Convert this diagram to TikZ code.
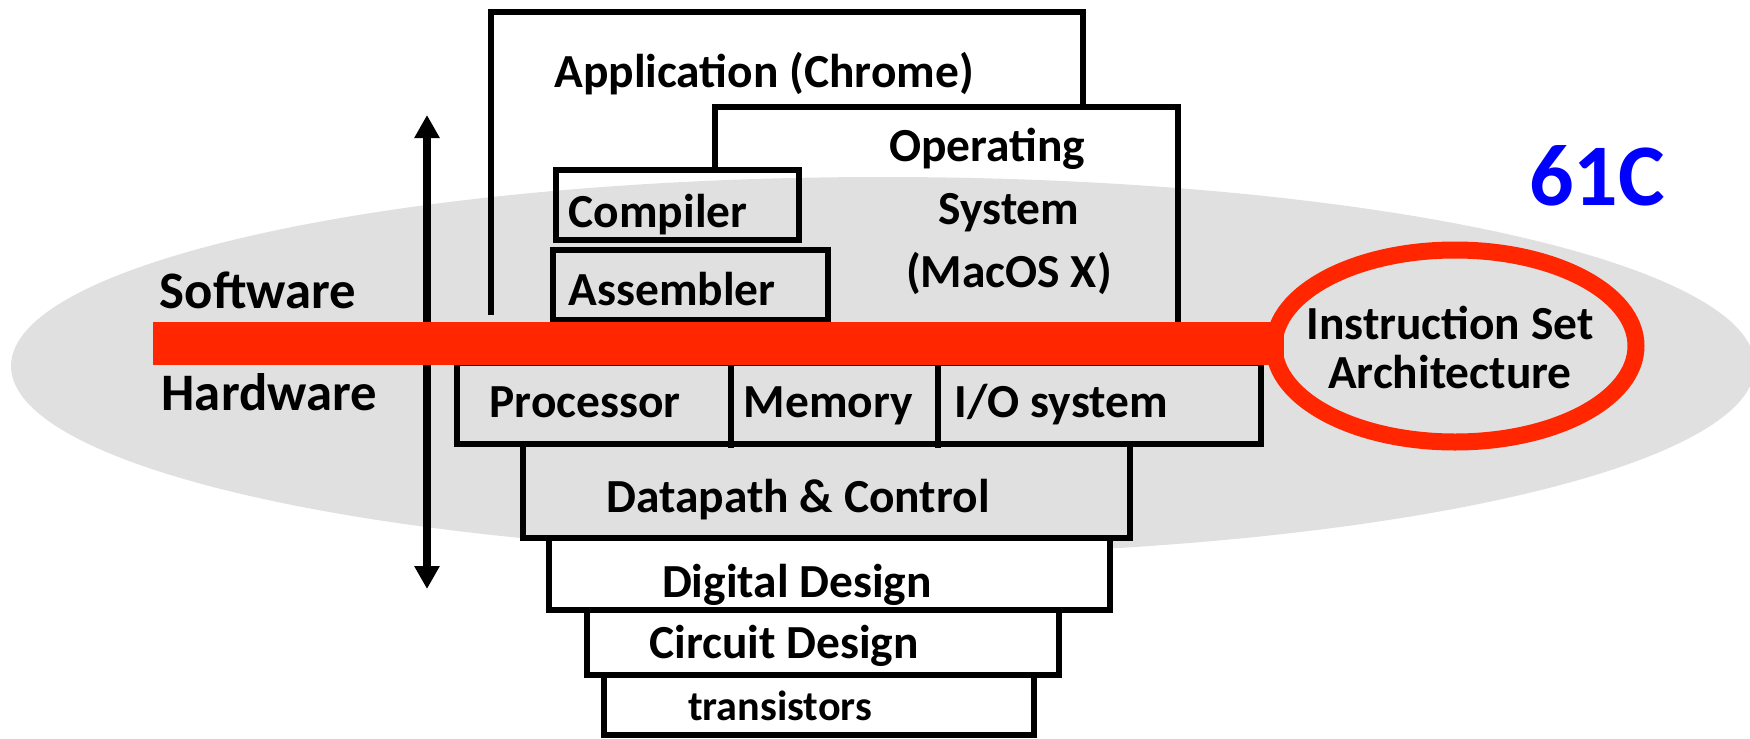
\documentclass[tikz,border=0pt]{standalone}
\usepackage{fontspec}
\setmainfont{Carlito}
\usetikzlibrary{arrows.meta}
\definecolor{ellgray}{RGB}{224,224,224}
\definecolor{isared}{RGB}{255,38,0}
\definecolor{cblue}{RGB}{0,0,255}
\tikzset{
layer/.style={draw, line width=1.8pt}, % outline of one layer box
lbl/.style={font=\bfseries\fontsize{13.5}{17.8}\selectfont, inner sep=0pt}, % text in the boxes
side/.style={font=\bfseries\fontsize{15}{16}\selectfont, inner sep=0pt, anchor=base west}, % software / hardware
updown/.style={{Triangle[width=2.4mm,length=2.3mm]}-{Triangle[width=2.4mm,length=2.3mm]}, line width=0.8mm},
}

\begin{document}
\begin{tikzpicture}[x=0.1mm, y=-0.1mm]%pixel units, y downwards
  \useasboundingbox (0,0) rectangle (1750,738);
  \fill[ellgray] (883,366) ellipse [x radius=87.2mm, y radius=18.9mm];

  % software side
  \draw[layer] (491,315) |- (1083,12) -- (1083,107);
  \draw[layer] (715,168) |- (1178,107) -- (1178,322);
  \draw[layer] (556,170) rectangle (799,240);
  \draw[layer] (553,250) rectangle (828,320);

  % hardware side
  \draw[layer] (457,363) rectangle (1261,444);
  \draw[layer] (731,363) -- (731,448);
  \draw[layer] (938,363) -- (938,448);
  \draw[layer] (523,444) rectangle (1130,538);
  \draw[layer, fill=white] (549,538) rectangle (1110,610);
  \draw[layer, fill=white] (587,610) rectangle (1059,675);
  \draw[layer, fill=white] (604,675) rectangle (1034,735);

  \coordinate (up) at (427,115);
  \coordinate (down) at (427,589);
  \draw[updown] (up) -- (down);

  % the interface
  \fill[isared] (153,322) rectangle (1284,365);
  \draw[isared, line width=1.7mm] (1455,346) ellipse [x radius=18.1mm, y radius=9.6mm];

  \node[side] (sw) at (159,308) {Software};
  \node[side] (hw) at (161,410) {Hardware};
  \node[lbl, anchor=base] (app) at (764,87) {Application (Chrome)};
  \node[lbl, anchor=base, align=center] (os) at (1009,287) {Operating\hspace*{4.4mm}\\System\\(MacOS X)};
  \node[lbl, anchor=base west] (comp) at (568,227) {Compiler};
  \node[lbl, anchor=base west] (asm) at (568,305) {Assembler};
  \node[lbl, anchor=base west] (proc) at (489,417) {Processor};
  \node[lbl, anchor=base west] (mem) at (743,417) {Memory};
  \node[lbl, anchor=base west] (io) at (954,417) {I/O system};
  \node[lbl, anchor=base] (dp) at (798,512) {Datapath \& Control};
  \node[lbl, anchor=base] (dd) at (797,597) {Digital Design};
  \node[lbl, anchor=base] (cd) at (784,658) {Circuit Design};
  \node[lbl, anchor=base, font=\bfseries\fontsize{12}{14}\selectfont] (tr) at (780,720) {transistors};
  \node[lbl, anchor=base, align=center, font=\bfseries\fontsize{13.5}{13.7}\selectfont] (isa) at (1450,388) {Instruction Set\\Architecture};
  \node[inner sep=0pt, anchor=base, text=cblue, font=\bfseries\fontsize{25}{30}\selectfont] (cls) at (1597,205) {61C};
\end{tikzpicture}
\end{document}
